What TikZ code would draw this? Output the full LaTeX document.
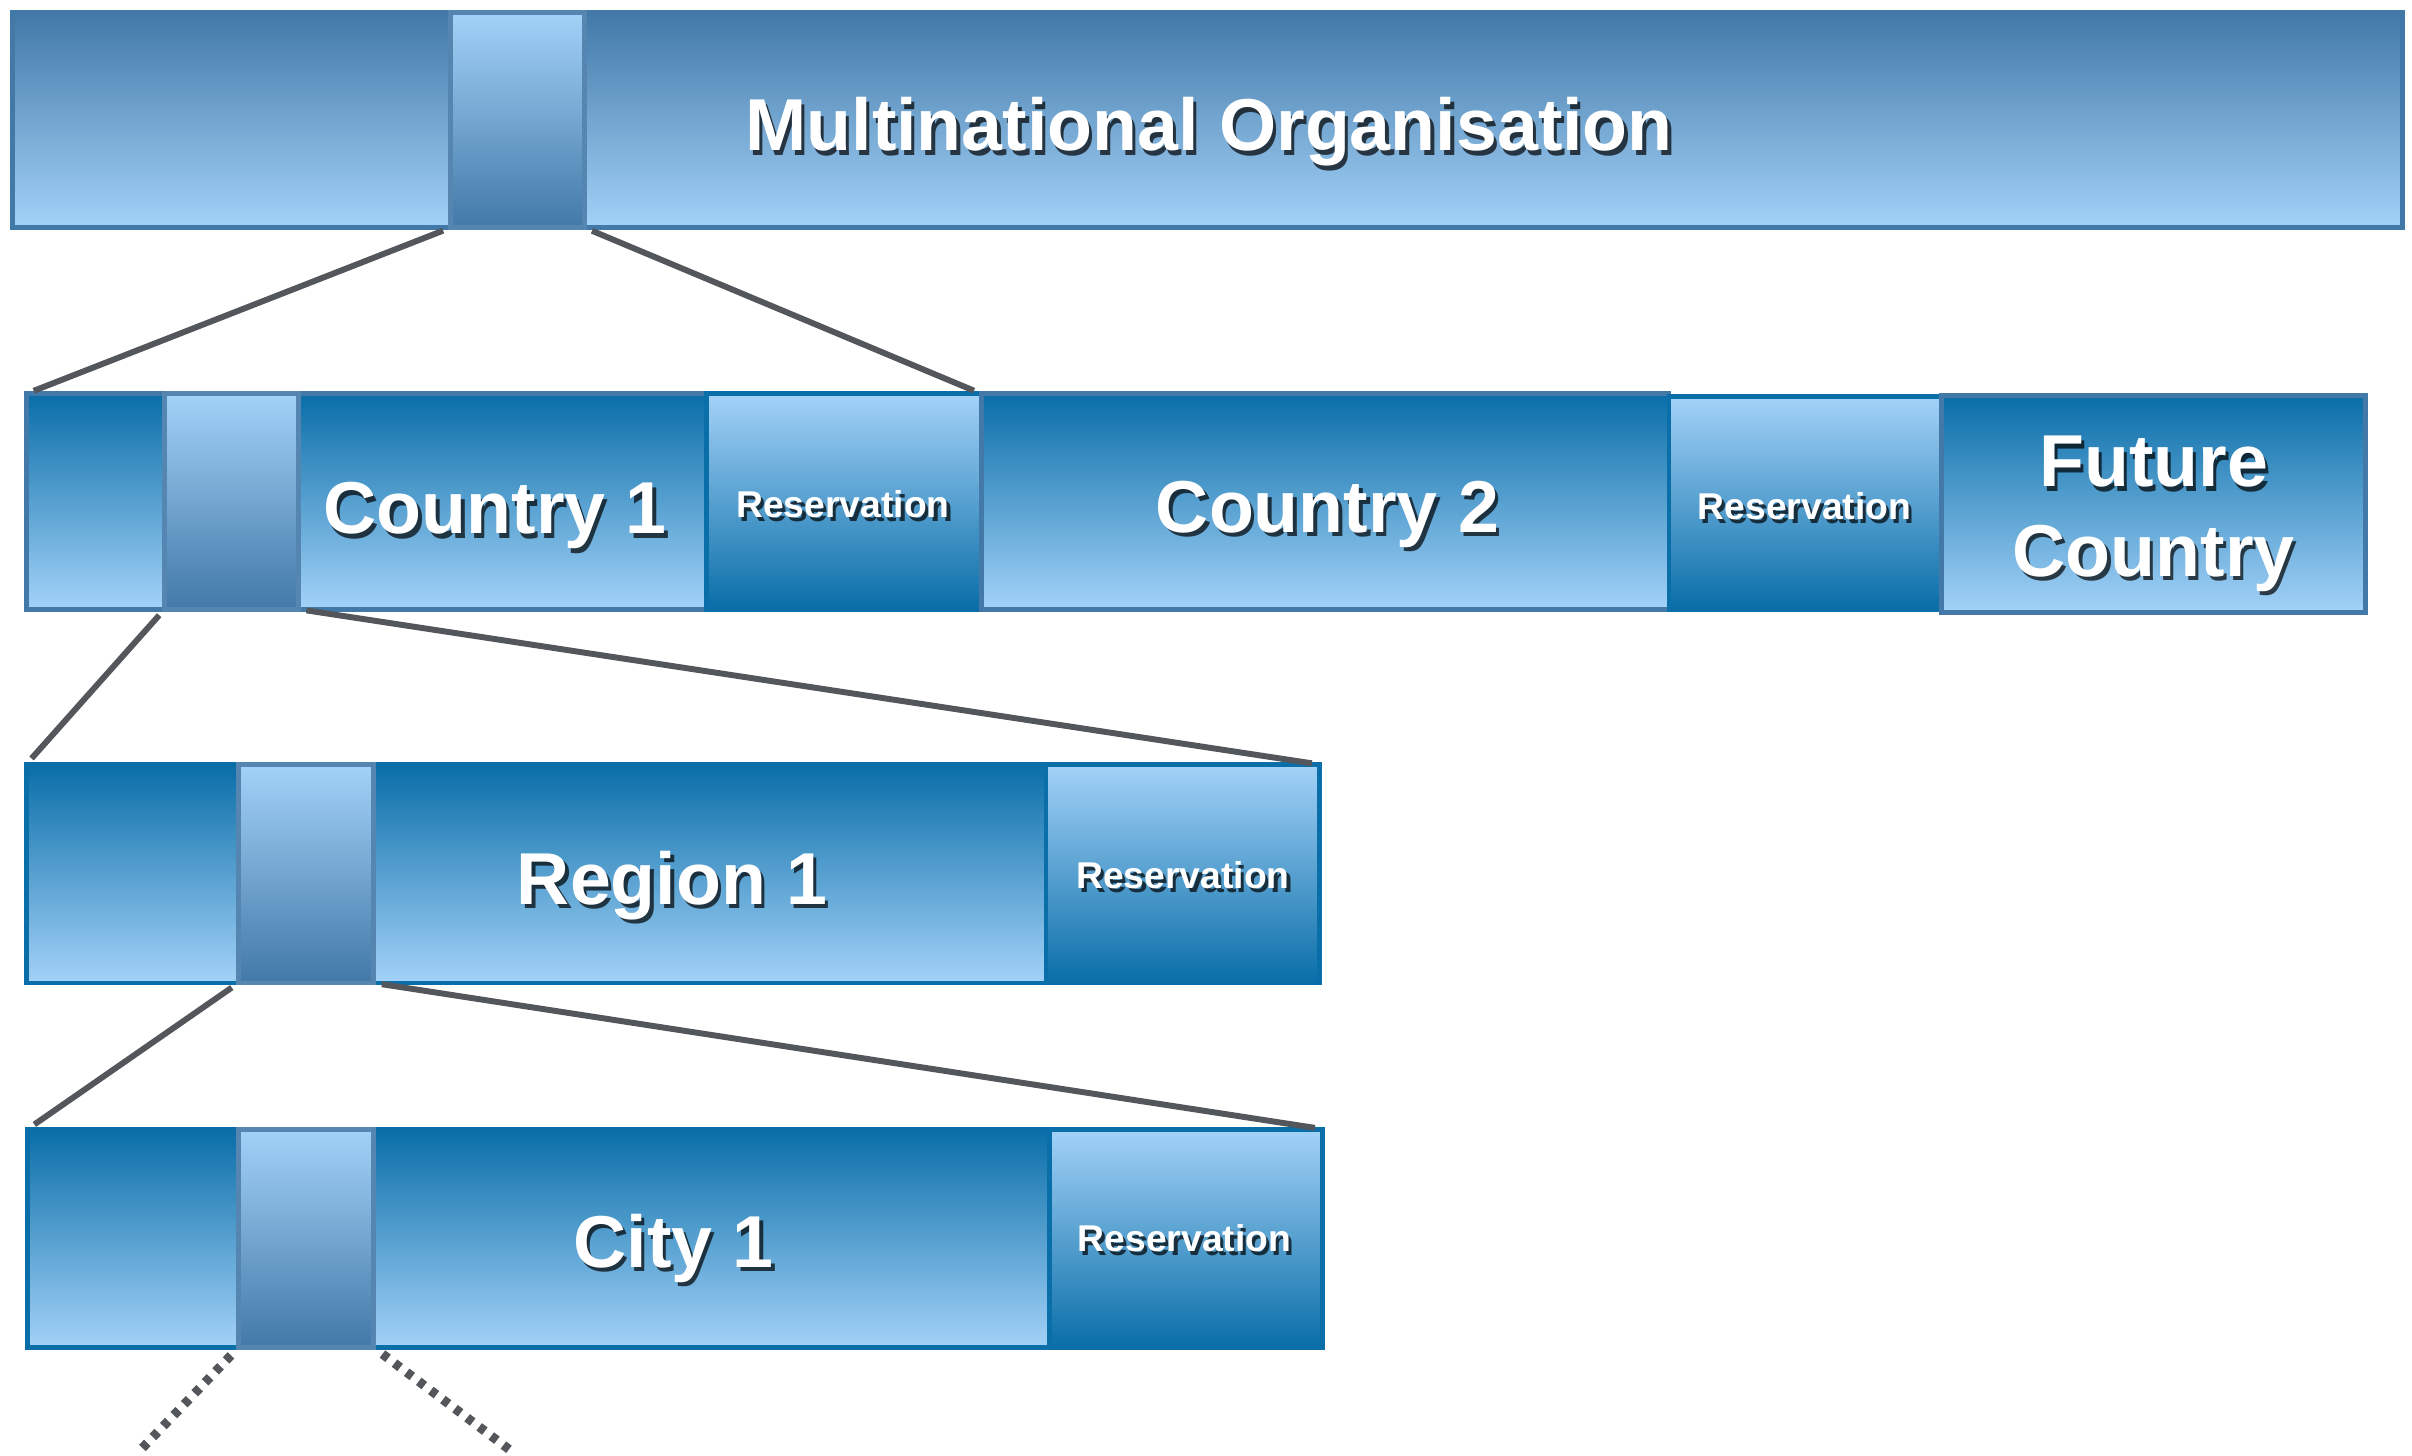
\documentclass[tikz,border=0pt]{standalone}
\usepackage{fontspec}
\setmainfont{Liberation Sans}
\usepackage{tikz}
\usetikzlibrary{positioning}

\definecolor{steel}{RGB}{66,121,168}
\definecolor{sky}{RGB}{163,210,248}
\definecolor{deep}{RGB}{10,110,168}
\definecolor{wire}{RGB}{83,87,92}

\newcommand{\bigtxt}{\bfseries\fontsize{13.6}{16.5}\selectfont}
\newcommand{\smalltxt}{\bfseries\fontsize{6.9}{8}\selectfont}
% white label with a dark drop shadow: name, position, anchor, font, text
\newcommand{\seglabel}[5]{%
  \node[anchor=#3, font=#4, align=center, text=black, opacity=.7, xshift=.6pt, yshift=-.8pt] at (#2) {#5};
  \node[anchor=#3, font=#4, align=center, text=white] (#1) at (#2) {#5};}

\begin{document}
\begin{tikzpicture}[
    seg/.style={rectangle, line width=.9pt, inner sep=0pt, outer sep=0pt, anchor=north west, minimum height=1.40cm},
    upper/.style={seg, draw=steel, top color=steel, bottom color=sky},
    country/.style={seg, draw=steel, top color=deep, bottom color=sky},
    area/.style={seg, draw=deep, top color=deep, bottom color=sky},
    resv/.style={seg, draw=deep, top color=sky, bottom color=deep},
    pick/.style={seg, draw=steel!90!white, top color=sky, bottom color=steel},
    wire/.style={draw=wire, line width=1.1pt, shorten <=1.5pt, shorten >=1.5pt},
    dots/.style={draw=wire, line width=1.7pt, dash pattern=on 1.3pt off 1.5pt, shorten <=2pt}]
  \useasboundingbox (0,0) rectangle (15.68,9.46);

  % top level
  \node[upper, minimum width=15.54cm] (org) at (0.08,9.38) {};
  \node[pick, minimum width=.87cm] (orgpick) at (2.93,9.38) {};

  % countries
  \node[country, minimum width=4.42cm] (cone) at (0.17,6.90) {};
  \node[pick, minimum width=.87cm] (conepick) at (1.07,6.90) {};
  \node[resv, minimum width=1.79cm] (coneres) at (4.59,6.90) {};
  \node[country, minimum width=4.47cm] (ctwo) at (6.38,6.90) {};
  \node[resv, minimum width=1.77cm, minimum height=1.38cm] (ctwores) at (10.85,6.88) {};
  \node[country, minimum width=2.76cm, minimum height=1.41cm] (future) at (12.62,6.89) {};

  % region
  \node[area, minimum width=6.63cm, minimum height=1.42cm] (region) at (0.17,4.49) {};
  \node[pick, minimum width=.88cm, minimum height=1.42cm] (regionpick) at (1.55,4.49) {};
  \node[resv, minimum width=1.78cm, minimum height=1.42cm] (regionres) at (6.80,4.49) {};

  % city
  \node[area, minimum width=6.64cm, minimum height=1.42cm] (city) at (0.18,2.12) {};
  \node[pick, minimum width=.88cm, minimum height=1.42cm] (citypick) at (1.55,2.12) {};
  \node[resv, minimum width=1.78cm, minimum height=1.42cm] (cityres) at (6.82,2.12) {};

  \seglabel{orgtxt}{7.86,8.48}{base}{\bigtxt}{Multinational Organisation}
  \seglabel{conetxt}{3.22,5.99}{base}{\bigtxt}{Country 1}
  \seglabel{conerestxt}{5.48,6.095}{base}{\smalltxt}{Reservation}
  \seglabel{ctwotxt}{8.63,6.00}{base}{\bigtxt}{Country 2}
  \seglabel{ctworestxt}{11.73,6.085}{base}{\smalltxt}{Reservation}
  \seglabel{futuretxt}{14.00,6.12}{center}{\bigtxt}{Future\\Country}
  \seglabel{regiontxt}{4.37,3.58}{base}{\bigtxt}{Region 1}
  \seglabel{regionrestxt}{7.69,3.685}{base}{\smalltxt}{Reservation}
  \seglabel{citytxt}{4.38,1.22}{base}{\bigtxt}{City 1}
  \seglabel{cityrestxt}{7.70,1.325}{base}{\smalltxt}{Reservation}

  % zoom lines
  \draw[wire] (orgpick.south west) -- (cone.north west);
  \draw[wire] (orgpick.south east) -- (coneres.north east);
  \draw[wire] (conepick.south west) -- (region.north west);
  \draw[wire] (conepick.south east) -- (regionres.north east);
  \draw[wire] (regionpick.south west) -- (city.north west);
  \draw[wire] (regionpick.south east) -- (cityres.north east);

  \coordinate (moreleft) at (0.90,0.02);
  \coordinate (moreright) at (3.32,0.03);
  \draw[dots] (citypick.south west) -- (moreleft);
  \draw[dots] (citypick.south east) -- (moreright);
\end{tikzpicture}
\end{document}
